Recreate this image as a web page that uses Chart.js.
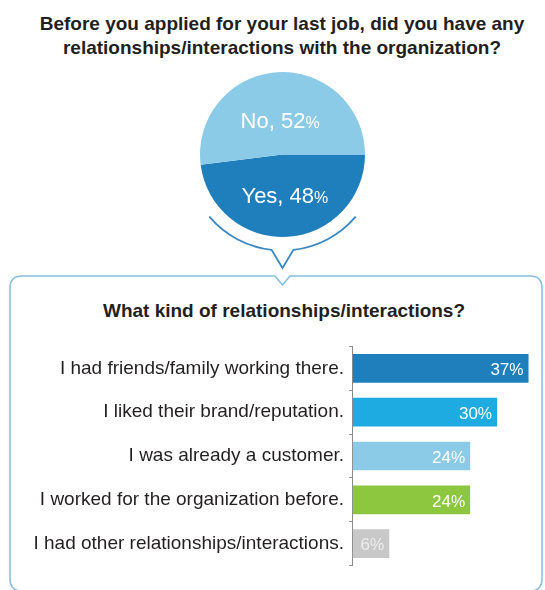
<!DOCTYPE html>
<html>
<head>
<meta charset="utf-8">
<title>Relationships with the organization</title>
<script src="https://cdn.jsdelivr.net/npm/chart.js@4.4.1/dist/chart.umd.min.js"></script>
<style>
  body { margin: 0; background: #fff; overflow: hidden; font-family: 'Liberation Sans', Arial, sans-serif; }
  #page { position: relative; width: 545px; height: 590px; }
  .heading { position: absolute; text-align: center; font-weight: bold; font-size: 19px; line-height: 24px; color: #231f20; }
  #title { left: 20px; top: 12px; width: 524px; }
  #subtitle { left: 20px; top: 299px; width: 528px; }
  #frame, canvas { position: absolute; left: 0; top: 0; }
  #answerChart { left: 200px; top: 72px; }
  #kindChart { left: 12px; top: 330px; }
</style>
</head>
<body>
<div id="page">
  <!-- callout bracket under the pie and the box around the bar chart -->
  <svg id="frame" width="545" height="590">
    <path d="M 209.3 216.6 A 96 96 0 0 0 271.6 249.9 L 282.5 268 L 293.4 249.9 A 96 96 0 0 0 355.7 216.6"
          fill="none" stroke="#3a88c3" stroke-width="1.8"/>
    <path d="M 22 276 L 275 276 L 282.5 285 L 290 276 L 530 276 Q 542 276 542 288 L 542 579 Q 542 591 530 591 L 22 591 Q 10 591 10 579 L 10 288 Q 10 276 22 276 Z"
          fill="none" stroke="#86bfe2" stroke-width="1.5"/>
  </svg>
  <div id="title" class="heading">Before you applied for your last job, did you have any<br>relationships/interactions with the organization?</div>
  <canvas id="answerChart" width="165" height="165"></canvas>
  <div id="subtitle" class="heading">What kind of relationships/interactions?</div>
  <canvas id="kindChart" width="530" height="252"></canvas>
</div>
<script>
const FONT = "'Liberation Sans', Arial, sans-serif";

// first question
const answerLabels = ['Yes', 'No'];
const answerShares = [48, 52];
const answerColors = ['#1f7fbd', '#8ccbe8'];

// follow-up question
const kindLabels = [
    'I had friends/family working there.',
    'I liked their brand/reputation.',
    'I was already a customer.',
    'I worked for the organization before.',
    'I had other relationships/interactions.'
];
const kindShares = [37, 30, 24, 24, 6];
const kindColors = ['#1f7fbd', '#1eabe2', '#8ccbe8', '#8dc63f', '#c8c8c8'];

// text with a slightly smaller percent sign after it
function drawPercent(ctx, text, x, y, size, pctSize, drop, color, align) {
    ctx.save();
    ctx.fillStyle = color;
    ctx.textAlign = 'left';
    ctx.textBaseline = 'alphabetic';
    ctx.font = `${size}px ${FONT}`;
    const w1 = ctx.measureText(text).width;
    ctx.font = `${pctSize}px ${FONT}`;
    const w2 = ctx.measureText('%').width;
    const left = align === 'right' ? x - w1 - w2 : x - (w1 + w2) / 2;
    const base = y + size * drop;
    ctx.font = `${size}px ${FONT}`;
    ctx.fillText(text, left, base);
    ctx.font = `${pctSize}px ${FONT}`;
    ctx.fillText('%', left + w1, base);
    ctx.restore();
}

const pieLabels = {
    id: 'pieLabels',
    afterDatasetsDraw(chart) {
        const meta = chart.getDatasetMeta(0);
        meta.data.forEach((arc, i) => {
            const mid = (arc.startAngle + arc.endAngle) / 2;
            const r = arc.outerRadius * 0.46;
            const x = arc.x + Math.cos(mid) * r;
            const y = arc.y + Math.sin(mid) * r;
            drawPercent(chart.ctx, `${answerLabels[i]}, ${answerShares[i]}`, x, y, 22, 16, 0.5, '#ffffff', 'center');
        });
    }
};

const valueLabels = {
    id: 'valueLabels',
    afterDatasetsDraw(chart) {
        const meta = chart.getDatasetMeta(0);
        meta.data.forEach((bar, i) => {
            const color = i === kindShares.length - 1 ? '#eeeeee' : '#ffffff';
            drawPercent(chart.ctx, String(kindShares[i]), bar.x - 5, bar.y, 17, 16, 0.4, color, 'right');
        });
    }
};

new Chart(document.getElementById('answerChart'), {
    type: 'pie',
    data: {
        labels: answerLabels,
        datasets: [{
            data: answerShares,
            backgroundColor: answerColors,
            borderWidth: 0
        }]
    },
    options: {
        responsive: false,
        animation: false,
        rotation: 90,
        plugins: {
            legend: { display: false },
            tooltip: { enabled: false }
        }
    },
    plugins: [pieLabels]
});

new Chart(document.getElementById('kindChart'), {
    type: 'bar',
    data: {
        labels: kindLabels,
        datasets: [{
            data: kindShares,
            backgroundColor: kindColors,
            base: -2.1,
            barPercentage: 0.655,
            categoryPercentage: 1
        }]
    },
    options: {
        indexAxis: 'y',
        responsive: false,
        animation: false,
        layout: { padding: { top: 8.5, bottom: 7, left: 0, right: 0 } },
        plugins: {
            legend: { display: false },
            tooltip: { enabled: false }
        },
        scales: {
            x: { display: false, min: -2.3, max: 40 },
            y: {
                afterFit(scale) { scale.width = 340; },
                border: { display: true, color: '#8c8c8c', width: 1 },
                grid: { drawOnChartArea: false, drawTicks: true, tickLength: 3, color: '#8c8c8c', offset: true },
                ticks: { padding: 5, color: '#231f20', font: { family: FONT, size: 19 } }
            }
        }
    },
    plugins: [valueLabels]
});
</script>
</body>
</html>
